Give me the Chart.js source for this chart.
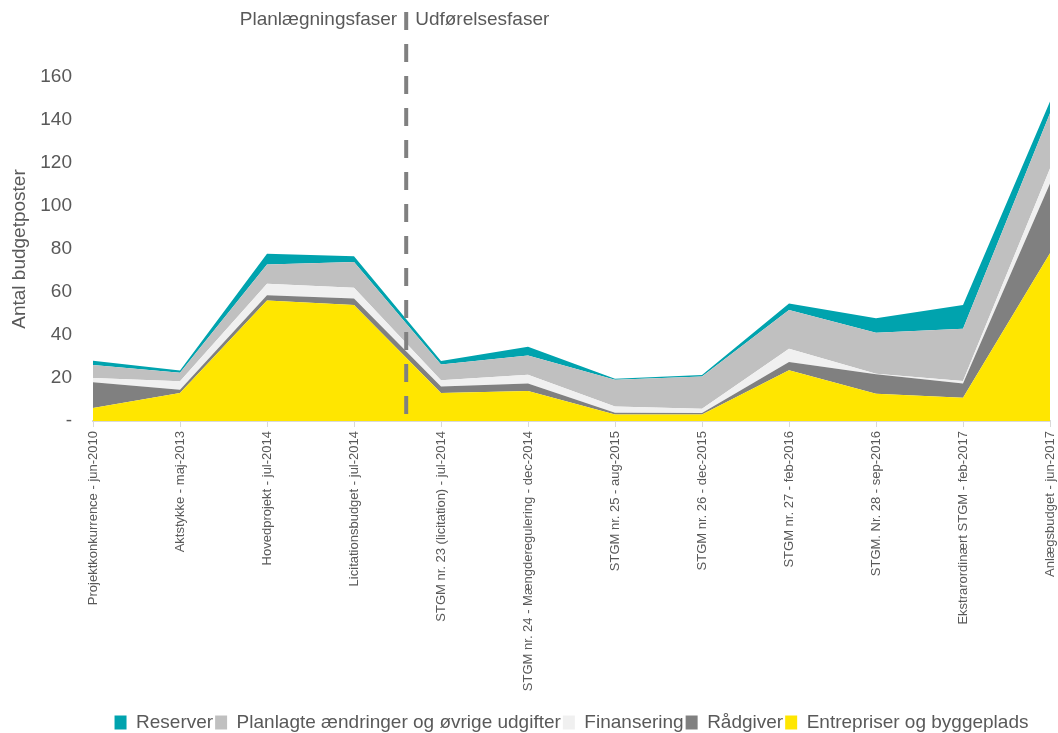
<!DOCTYPE html>
<html>
<head>
<meta charset="utf-8">
<script src="https://cdn.jsdelivr.net/npm/chart.js@4/dist/chart.umd.min.js"></script>
<style>
  html, body { margin: 0; padding: 0; background: #fff; }
  #wrap { width: 1058px; height: 733px; position: relative; }
</style>
</head>
<body>
<div id="wrap"><canvas id="c"></canvas></div>
<script>
// Kategorier (budgetrevisioner)
const labels = [
    'Projektkonkurrence - jun-2010',
    'Aktstykke - maj-2013',
    'Hovedprojekt - jul-2014',
    'Licitationsbudget - jul-2014',
    'STGM nr. 23 (licitation) - jul-2014',
    'STGM nr. 24 - Mængderegulering - dec-2014',
    'STGM nr. 25 - aug-2015',
    'STGM nr. 26 - dec-2015',
    'STGM nr. 27 - feb-2016',
    'STGM. Nr. 28 - sep-2016',
    'Ekstrarordinært STGM - feb-2017',
    'Anlægsbudget - jun-2017'
];

// Serier (stables nedefra)
const entrepriser = [6, 13, 56, 54, 13, 14, 3, 3, 23.6, 12.7, 10.8, 78];
const raadgiver   = [12, 1.5, 2.5, 3, 3, 3.5, 0.8, 0.7, 3.8, 9, 6.6, 32.5];
const finansering = [2, 4, 5.3, 5, 3, 4, 3, 2, 6.2, 0.3, 1.2, 7];
const planlagte   = [6, 4, 9, 12, 7.3, 9, 12.4, 15, 18, 19, 24.3, 25.6];
const reserver    = [2, 1, 5, 2.6, 1.6, 4, 0.5, 0.7, 3, 6.8, 11, 5.5];

const yTicks = [0, 20, 40, 60, 80, 100, 120, 140, 160];

// Faseskift mellem Licitationsbudget og STGM nr. 23
const phaseSplit = 3.6;
const phaseLeft = 'Planlægningsfaser';
const phaseRight = 'Udførelsesfaser';

const textGrey = '#595959';
const fontFamily = "'Liberation Sans', Arial, sans-serif";

const phasePlugin = {
    id: 'phaseLine',
    afterDraw(chart) {
        const ctx = chart.ctx;
        const xs = chart.scales.x;
        const ys = chart.scales.y;
        const x = xs.getPixelForValue(phaseSplit);
        ctx.save();
        ctx.strokeStyle = '#808080';
        ctx.lineWidth = 4;
        ctx.setLineDash([18, 14]);
        ctx.beginPath();
        ctx.moveTo(x, 12);
        ctx.lineTo(x, ys.bottom);
        ctx.stroke();
        ctx.setLineDash([]);
        ctx.fillStyle = textGrey;
        ctx.font = '19px ' + fontFamily;
        ctx.textBaseline = 'middle';
        ctx.textAlign = 'right';
        ctx.fillText(phaseLeft, x - 9, 20);
        ctx.textAlign = 'left';
        ctx.fillText(phaseRight, x + 9, 20);
        ctx.restore();
    }
};

const mk = (label, data, color, fill) => ({
    label, data,
    backgroundColor: color,
    borderColor: color,
    borderWidth: 0,
    pointRadius: 0,
    pointHoverRadius: 0,
    tension: 0,
    fill
});

new Chart(document.getElementById('c'), {
    type: 'line',
    data: {
        labels: labels,
        datasets: [
            mk('Entrepriser og byggeplads', entrepriser, '#FFE600', 'origin'),
            mk('Rådgiver', raadgiver, '#808080', '-1'),
            mk('Finansering', finansering, '#F0F0F0', '-1'),
            mk('Planlagte ændringer og øvrige udgifter', planlagte, '#C0C0C0', '-1'),
            mk('Reserver', reserver, '#00A3AE', '-1')
        ]
    },
    options: {
        animation: false,
        responsive: true,
        maintainAspectRatio: false,
        layout: { padding: { top: 77, right: 0, left: 4, bottom: -9 } },
        plugins: {
            legend: {
                position: 'bottom',
                fullSize: false,
                reverse: true,
                labels: {
                    color: textGrey,
                    font: { family: fontFamily, size: 19 },
                    boxWidth: 12,
                    boxHeight: 14,
                    padding: 2
                }
            },
            tooltip: { enabled: false }
        },
        scales: {
            x: {
                stacked: true,
                offset: false,
                afterFit(scale) {
                    scale.height = 290;
                    scale.paddingLeft = 0;
                    scale.paddingRight = 8;
                },
                grid: { drawOnChartArea: false, drawTicks: true, tickLength: 6, color: '#D9D9D9' },
                border: { display: true, color: '#D9D9D9', width: 2 },
                ticks: {
                    color: textGrey,
                    font: { family: fontFamily, size: 13 },
                    minRotation: 90,
                    maxRotation: 90,
                    autoSkip: false,
                    padding: 4
                }
            },
            y: {
                stacked: true,
                min: 0,
                max: 160,
                afterBuildTicks(scale) { scale.ticks = yTicks.map(v => ({ value: v })); },
                afterFit(scale) { scale.width = 89; },
                grid: { display: false },
                border: { display: false },
                title: {
                    display: true,
                    text: 'Antal budgetposter',
                    color: textGrey,
                    font: { family: fontFamily, size: 19 },
                    padding: { top: 4, bottom: 0 }
                },
                ticks: {
                    color: textGrey,
                    font: { family: fontFamily, size: 19 },
                    padding: 13,
                    callback: v => v === 0 ? '-' : v
                }
            }
        }
    },
    plugins: [phasePlugin]
});
</script>
</body>
</html>
